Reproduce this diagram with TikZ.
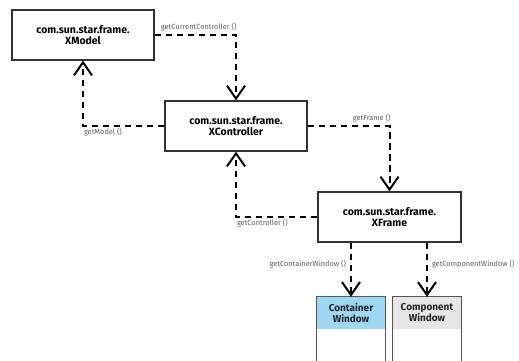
\documentclass[tikz,border=0pt]{standalone}
\usepackage{fontspec}
\setmainfont{Fira Sans}
\usetikzlibrary{arrows.meta}
\definecolor{boxline}{HTML}{333333}
\definecolor{lblgray}{HTML}{606060}
\definecolor{winblue}{HTML}{9FD6F2}
\definecolor{wingray}{HTML}{E6E6E6}
\definecolor{winline}{HTML}{555555}
\begin{document}
\begin{tikzpicture}[x=1pt,y=-1pt,
  ifbox/.style={draw=boxline, line width=1.2pt, fill=white, minimum width=142pt, minimum height=50pt,
    align=center, inner sep=0pt, font=\bfseries\fontsize{10.5}{10.8}\selectfont},
  winhead/.style={minimum width=68pt, minimum height=32pt, inner sep=0pt, align=center,
    font=\bfseries\fontsize{10}{11}\selectfont, text=black!85},
  winborder/.style={draw=winline, line width=1.3pt},
  conn/.style={line width=2pt, dash pattern=on 6.5pt off 4.5pt,
    -{Straight Barb[length=13pt,width=18pt]}},
  lbl/.style={font=\fontsize{7.4}{8.5}\selectfont, text=lblgray, inner sep=1pt}]
\useasboundingbox (0,0) rectangle (519,360);
\fill[white] (0,0) rectangle (519,360);

\node[ifbox] (xmodel) at (83,35) {com.sun.star.frame.\\XModel};
\node[ifbox] (xctrl) at (236,126) {com.sun.star.frame.\\XController};
\node[ifbox, minimum width=143pt] (xframe) at (389.5,217) {com.sun.star.frame.\\XFrame};

\node[winhead, fill=winblue] (cw) at (351,313) {Container\\Window};
\node[winhead, fill=wingray] (cpw) at (427,313) {Component\\Window};
\draw[winborder] ([yshift=-40pt]cw.south west) -- (cw.north west) -- (cw.north east) -- ([yshift=-40pt]cw.south east);
\draw[winborder] ([yshift=-40pt]cpw.south west) -- (cpw.north west) -- (cpw.north east) -- ([yshift=-40pt]cpw.south east);

\draw[conn] (xmodel.east) -| (xctrl.north)
  node[pos=0.5, lbl, anchor=south east, xshift=2.5pt, yshift=2pt] {getCurrentController ()};
\draw[conn] (xctrl.west) -| (xmodel.south)
  node[pos=0.5, lbl, anchor=north west, xshift=-1pt, yshift=-0.5pt] {getModel ()};
\draw[conn] (xctrl.east) -| (xframe.north)
  node[pos=0.5, lbl, anchor=south east, xshift=3pt, yshift=2pt] {getFrame ()};
\draw[conn] (xframe.west) -| (xctrl.south)
  node[pos=0.5, lbl, anchor=north west, xshift=-1pt, yshift=-0.5pt] {getController ()};
\draw[conn] (xframe.south -| cw.north) -- (cw.north)
  node[pos=0.4, lbl, anchor=east, xshift=-3pt] {getContainerWindow ()};
\draw[conn] (xframe.south -| cpw.north) -- (cpw.north)
  node[pos=0.4, lbl, anchor=west, xshift=3pt] {getComponentWindow ()};
\end{tikzpicture}
\end{document}
